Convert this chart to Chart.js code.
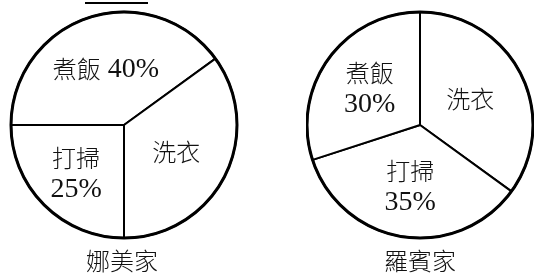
<!DOCTYPE html>
<html>
<head>
<meta charset="utf-8">
<script src="https://cdn.jsdelivr.net/npm/chart.js@4"></script>
<style>
  body { margin: 0; background: #fff; }
  #wrap { position: relative; width: 534px; height: 273px; overflow: hidden; }
  canvas { position: absolute; top: 0; }
  .cap { position: absolute; top: 242px; width: 120px; text-align: center;
         font: 24px "Noto Sans CJK TC"; font-weight: 300; color: #111; }
  .uline { position: absolute; left: 85px; top: 2px; width: 63px; height: 2px; background: #000; }
</style>
</head>
<body>
<div id="wrap">
  <div class="uline"></div>
  <canvas id="left" width="248" height="250" style="left:0"></canvas>
  <canvas id="right" width="228" height="250" style="left:306px"></canvas>
  <div class="cap" style="left:62px">娜美家</div>
  <div class="cap" style="left:360px">羅賓家</div>
</div>
<script>
// ================================
// Data for the two pie charts
// ================================
const leftCategories = ["打掃", "煮飯", "洗衣"];
const leftValues = [25, 40, 35];
const leftLabels = [["打掃", "25%"], ["煮飯 40%"], ["洗衣"]];

const rightCategories = ["洗衣", "打掃", "煮飯"];
const rightValues = [35, 35, 30];
const rightLabels = [["洗衣"], ["打掃", "35%"], ["煮飯", "30%"]];

// CJK and latin parts use different fonts / sizes (like the original)
const CJK_FONT = '300 24px "Noto Sans CJK TC"';
const LAT_FONT = '28px "Liberation Serif", "DejaVu Serif", serif';

// split a label into runs of CJK / non-CJK text
function runs(text) {
    const out = [];
    for (const ch of text) {
        const cjk = /[\u3000-\u9fff]/.test(ch);
        const last = out[out.length - 1];
        if (last && last.cjk === cjk) last.t += ch;
        else out.push({ t: ch, cjk: cjk });
    }
    return out;
}

function drawMixed(ctx, text, cx, cy) {
    const parts = runs(text);
    let total = 0;
    parts.forEach(p => {
        ctx.font = p.cjk ? CJK_FONT : LAT_FONT;
        p.w = ctx.measureText(p.t).width;
        total += p.w;
    });
    let x = cx - total / 2;
    parts.forEach(p => {
        ctx.font = p.cjk ? CJK_FONT : LAT_FONT;
        ctx.fillText(p.t, x, cy + (p.cjk ? 0 : 1));
        x += p.w;
    });
}

// plugin: thick outer ring + text labels inside slices
const pieText = {
    id: "pieText",
    afterDatasetsDraw(chart, args, opts) {
        const ctx = chart.ctx;
        const arcs = chart.getDatasetMeta(0).data;
        const a0 = arcs[0];
        // outer circle, thicker than the dividing lines
        ctx.save();
        ctx.beginPath();
        ctx.arc(a0.x, a0.y, a0.outerRadius, 0, Math.PI * 2);
        ctx.lineWidth = 3;
        ctx.strokeStyle = "#000";
        ctx.stroke();

        ctx.fillStyle = "#111";
        ctx.textAlign = "left";
        ctx.textBaseline = "middle";
        arcs.forEach((arc, i) => {
            const mid = (arc.startAngle + arc.endAngle) / 2;
            const d = arc.outerRadius * opts.dist[i];
            const x = arc.x + Math.cos(mid) * d;
            const y = arc.y + Math.sin(mid) * d;
            const lines = opts.labels[i];
            const lh = 31;
            lines.forEach((t, j) => {
                drawMixed(ctx, t, x, y + (j - (lines.length - 1) / 2) * lh);
            });
        });
        ctx.restore();
    }
};

function makePie(id, cats, vals, labels, rotation, dist) {
    return new Chart(document.getElementById(id), {
        type: "pie",
        data: {
            labels: cats,
            datasets: [{
                data: vals,
                backgroundColor: "#fff",
                borderColor: "#000",
                borderWidth: 2,
                borderAlign: "center"
            }]
        },
        options: {
            responsive: false,
            animation: false,
            rotation: rotation,
            radius: 113,
            plugins: {
                legend: { display: false },
                tooltip: { enabled: false },
                pieText: { labels: labels, dist: dist }
            }
        },
        plugins: [pieText]
    });
}

makePie("left", leftCategories, leftValues, leftLabels, 180, [0.6, 0.52, 0.52]);
makePie("right", rightCategories, rightValues, rightLabels, 0, [0.5, 0.55, 0.55]);
</script>
</body>
</html>
